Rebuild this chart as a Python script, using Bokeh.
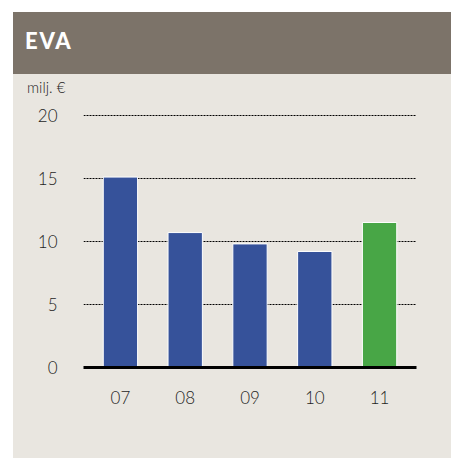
from bokeh.plotting import figure
from bokeh.models import Div, FactorRange, Range1d, FixedTicker, ColumnDataSource
from bokeh.layouts import column
from bokeh.embed import file_html
from bokeh.resources import INLINE

title = "EVA"
unit_label = "milj. €"
years = ["07", "08", "09", "10", "11"]
values = [15.1, 10.7, 9.8, 9.2, 11.5]
colors = ["#36529A", "#36529A", "#36529A", "#36529A", "#48A646"]
y_ticks = [0, 5, 10, 15, 20]

BG = "#E9E6E0"
HEADER = "#7C7369"
FONT = "'Lato Light', Lato"
TXT = "#1E1E1E"

header_html = (
    f'<div style="background-color:{HEADER};color:white;font-family:Lato,sans-serif;'
    f'font-weight:900;font-size:22px;letter-spacing:1.8px;line-height:58px;'
    f'padding-left:12px;box-sizing:border-box;width:438px;height:62px;">{title}</div>'
    f'<div style="background-color:{BG};color:{TXT};font-family:{FONT},sans-serif;'
    f'font-size:15px;line-height:18px;padding-left:14px;padding-top:4px;'
    f'box-sizing:border-box;width:438px;height:26px;">{unit_label}</div>'
)

header = Div(text=header_html, width=438, height=88, margin=0,
             styles={"width": "438px", "height": "88px", "background-color": BG,
                     "overflow": "hidden"})

src = ColumnDataSource(dict(x=years, top=values, color=colors))

p = figure(
    x_range=FactorRange(factors=years, range_padding=0.07, range_padding_units="absolute"),
    y_range=Range1d(0, 20.3),
    width=438, height=358, margin=0,
    output_backend="svg", toolbar_location=None,
    min_border_left=70, min_border_right=35, min_border_top=11, min_border_bottom=91,
)
p.background_fill_color = BG
p.border_fill_color = BG
p.outline_line_color = None

p.vbar(x="x", top="top", width=0.53, fill_color="color", line_color="white", line_width=1, source=src)

p.xgrid.grid_line_color = None
p.ygrid.grid_line_color = "black"
p.ygrid.grid_line_dash = "2 1"
p.ygrid.grid_line_width = 1
p.ygrid.ticker = FixedTicker(ticks=y_ticks)

p.yaxis.ticker = FixedTicker(ticks=y_ticks)
p.yaxis.axis_line_color = None
p.yaxis.major_tick_line_color = None
p.yaxis.minor_tick_line_color = None
p.yaxis.major_tick_out = 0
p.yaxis.major_label_standoff = 26
p.yaxis.major_label_text_font = FONT
p.yaxis.major_label_text_font_size = "17px"
p.yaxis.major_label_text_color = TXT

p.xaxis.axis_line_color = "black"
p.xaxis.axis_line_width = 3
p.xaxis.major_tick_line_color = None
p.xaxis.major_tick_out = 0
p.xaxis.major_label_standoff = 23
p.xaxis.major_label_text_font = FONT
p.xaxis.major_label_text_font_size = "17px"
p.xaxis.major_label_text_color = TXT

layout = column(header, p, margin=(12, 0, 0, 13), spacing=0,
                styles={"background-color": BG})

open("out.html", "w").write(file_html(layout, INLINE))
